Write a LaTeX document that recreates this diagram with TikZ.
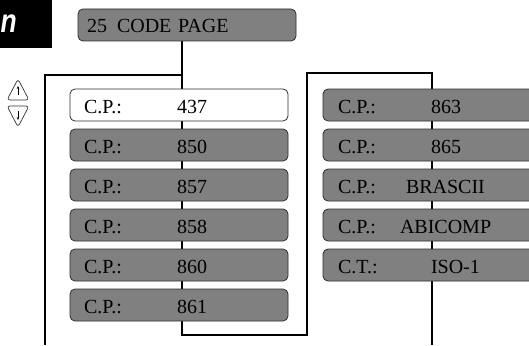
\documentclass[tikz,border=0pt]{standalone}
\usepackage{fontspec}
\setmainfont{Liberation Serif}
\newfontfamily\headfont[FakeStretch=0.8]{Liberation Sans}
\usepackage{tikz}
\usetikzlibrary{arrows.meta,positioning,backgrounds}

\definecolor{boxgray}{RGB}{128,128,128}
\definecolor{edgegray}{RGB}{45,45,45}

\newcommand{\cprow}[3][93pt]{\makebox[#1][l]{#2}#3}

\begin{document}
\begin{tikzpicture}[x=1pt,y=-1pt,
  wire/.style={line width=2pt,black},
  cpbox/.style={draw=edgegray,line width=0.8pt,fill=boxgray,rounded corners=5pt,
    minimum height=32pt,text width=190pt,inner xsep=14pt,inner ysep=0pt,outer sep=0pt,
    align=left,text height=16pt,text depth=0pt,font=\fontsize{20}{20}\selectfont},
  cpsel/.style={cpbox,fill=white},
  rbox/.style={cpbox,text width=230pt,inner xsep=15pt},
  titlebox/.style={cpbox,text width=200pt,inner xsep=9pt,text height=14.6pt},
  icon/.style={draw=black!80,line width=0.7pt,rounded corners=3pt,fill=white},
  tip/.style={-{Stealth[length=3pt,width=2.5pt]},line width=0.7pt}
]
\useasboundingbox (0,0) rectangle (529,345);
\clip (0,0) rectangle (529,345);

% Header tab
\fill[black] (0,0) rectangle (52,48);
\node[anchor=base west,inner sep=0pt,text=white,
  font=\headfont\bfseries\itshape\fontsize{33}{33}\selectfont] (tab) at (0.5,32.5) {n};

% Title
\node[titlebox,anchor=north west] (title) at (78,9) {25\hspace{10pt}CODE PAGE};

% Left column
\node[cpsel,anchor=north west] (cp437) at (70,89) {\cprow{C.P.:}{437}};
\node[cpbox,below=8pt of cp437] (cp850) {\cprow{C.P.:}{850}};
\node[cpbox,below=8pt of cp850] (cp857) {\cprow{C.P.:}{857}};
\node[cpbox,below=8pt of cp857] (cp858) {\cprow{C.P.:}{858}};
\node[cpbox,below=8pt of cp858] (cp860) {\cprow{C.P.:}{860}};
\node[cpbox,below=8pt of cp860] (cp861) {\cprow{C.P.:}{861}};

% Right column
\node[rbox,anchor=north west] (cp863) at (323,89) {\cprow{C.P.:}{863}};
\node[rbox,below=8pt of cp863] (cp865) {\cprow{C.P.:}{865}};
\node[rbox,below=8pt of cp865] (brascii) {\cprow[68pt]{C.P.:}{BRASCII}};
\node[rbox,below=8pt of brascii] (abicomp) {\cprow[62pt]{C.P.:}{ABICOMP}};
\node[rbox,below=8pt of abicomp] (iso1) {\cprow{C.T.:}{ISO-1}};

% Scroll keys
\draw[icon] (7,100) -- (18,79) -- (29,100) -- cycle;
\draw[tip] (18,95) -- (18,86);
\draw[icon] (7,106) -- (29,106) -- (18,127) -- cycle;
\draw[tip] (18,111) -- (18,120);

% Spines
\coordinate (lspine) at (182,335);
\coordinate (ltop) at (45,75);
\coordinate (lend) at (45,345);
\coordinate (rturn) at (307,335);
\coordinate (rtop) at (307,73);
\coordinate (rspine) at (432,73);
\coordinate (rend) at (432,345);

\begin{scope}[on background layer]
\draw[wire] (title.south -| lspine) |- (ltop) -- (lend);
\draw[wire] (title.south -| lspine) -- (lspine) -- (rturn) -- (rtop) -- (rspine) -- (rend);
\end{scope}
\end{tikzpicture}
\end{document}
